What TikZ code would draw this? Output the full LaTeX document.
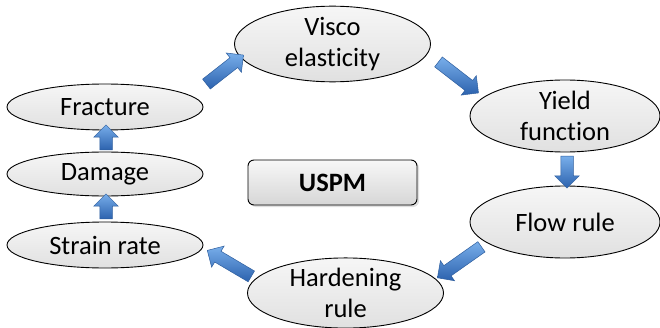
\documentclass[tikz,border=0pt]{standalone}
\usepackage{fontspec}
\setmainfont[Ligatures={NoCommon,NoContextual}]{Carlito}
\usetikzlibrary{shapes.geometric,shapes.arrows,calc,shadows}
\definecolor{arrowlight}{HTML}{78AEEA}
\definecolor{arrowmid}{HTML}{4282D2}
\definecolor{arrowdark}{HTML}{2C62AE}
\definecolor{arrowedge}{HTML}{2E5E9E}
\newcommand\blockarrow[3]{%
  \path let \p1=(#2), \p2=(#3) in
    node[barr, rotate={atan2(\y2-\y1,\x2-\x1)},
         minimum height={veclen(\x2-\x1,\y2-\y1)}] (#1) at ($(\p1)!0.5!(\p2)$) {};}
\begin{document}
\begin{tikzpicture}[x=1pt,y=1pt,
  bub/.style={ellipse, draw=black, line width=0.9pt, top color=gray!7, bottom color=gray!24,
    inner sep=0pt, align=center, font=\fontsize{26.5}{31}\selectfont},
  barr/.style={single arrow, draw=arrowedge, line width=0.5pt, top color=arrowlight,
    middle color=arrowmid, bottom color=arrowdark, inner sep=6pt, single arrow head extend=6pt,
    single arrow tip angle=90, anchor=center}]
\useasboundingbox (0,0) rectangle (660,327);
% nodes
\node[bub, minimum width=196pt, minimum height=72pt] (visco) at (332.5,283) {Visco\\elasticity};
\node[bub, minimum width=190pt, minimum height=72pt] (yield) at (565,211) {Yield\\function};
\node[bub, minimum width=190pt, minimum height=72pt] (flow) at (565,105) {Flow rule};
\node[bub, minimum width=196pt, minimum height=70pt] (hard) at (345.5,34) {Hardening\\rule};
\node[bub, minimum width=196pt, minimum height=46pt] (strain) at (105,82) {Strain rate};
\node[bub, minimum width=196pt, minimum height=44pt] (damage) at (105,153) {Damage};
\node[bub, minimum width=196pt, minimum height=46pt] (frac) at (105,220) {Fracture};
\node[draw=black, line width=0.9pt, rounded corners=6pt, top color=gray!6, bottom color=gray!32,
  minimum width=169pt, minimum height=45pt, font=\fontsize{26.5}{31}\selectfont\bfseries,
  drop shadow={opacity=0.25, shadow xshift=2pt, shadow yshift=-2pt}] (uspm) at (332.5,144.5) {USPM};
% arrow end points
\coordinate (t1) at ($(frac.center)+(99,21)$);
\coordinate (h1) at ($(visco.center)+(-91.5,-13)$);
\coordinate (t2) at ($(visco.center)+(103.5,-16)$);
\coordinate (h2) at ($(yield.center)+(-89,25)$);
\coordinate (t3) at ($(yield.center)+(2,-37)$);
\coordinate (h3) at ($(flow.center)+(2,37)$);
\coordinate (t4) at ($(flow.center)+(-81,-23)$);
\coordinate (h4) at ($(hard.center)+(94.5,17)$);
\coordinate (t5) at ($(hard.center)+(-91.5,15)$);
\coordinate (h5) at ($(strain.center)+(105,-7)$);
\coordinate (t6) at ($(strain.center)+(1,23)$);
\coordinate (h6) at ($(damage.center)+(1,-23)$);
\coordinate (t7) at ($(damage.center)+(1,21)$);
\coordinate (h7) at ($(frac.center)+(1,-21)$);
% arrows
\blockarrow{a1}{t1}{h1}
\blockarrow{a2}{t2}{h2}
\blockarrow{a3}{t3}{h3}
\blockarrow{a4}{t4}{h4}
\blockarrow{a5}{t5}{h5}
\blockarrow{a6}{t6}{h6}
\blockarrow{a7}{t7}{h7}
\end{tikzpicture}
\end{document}
